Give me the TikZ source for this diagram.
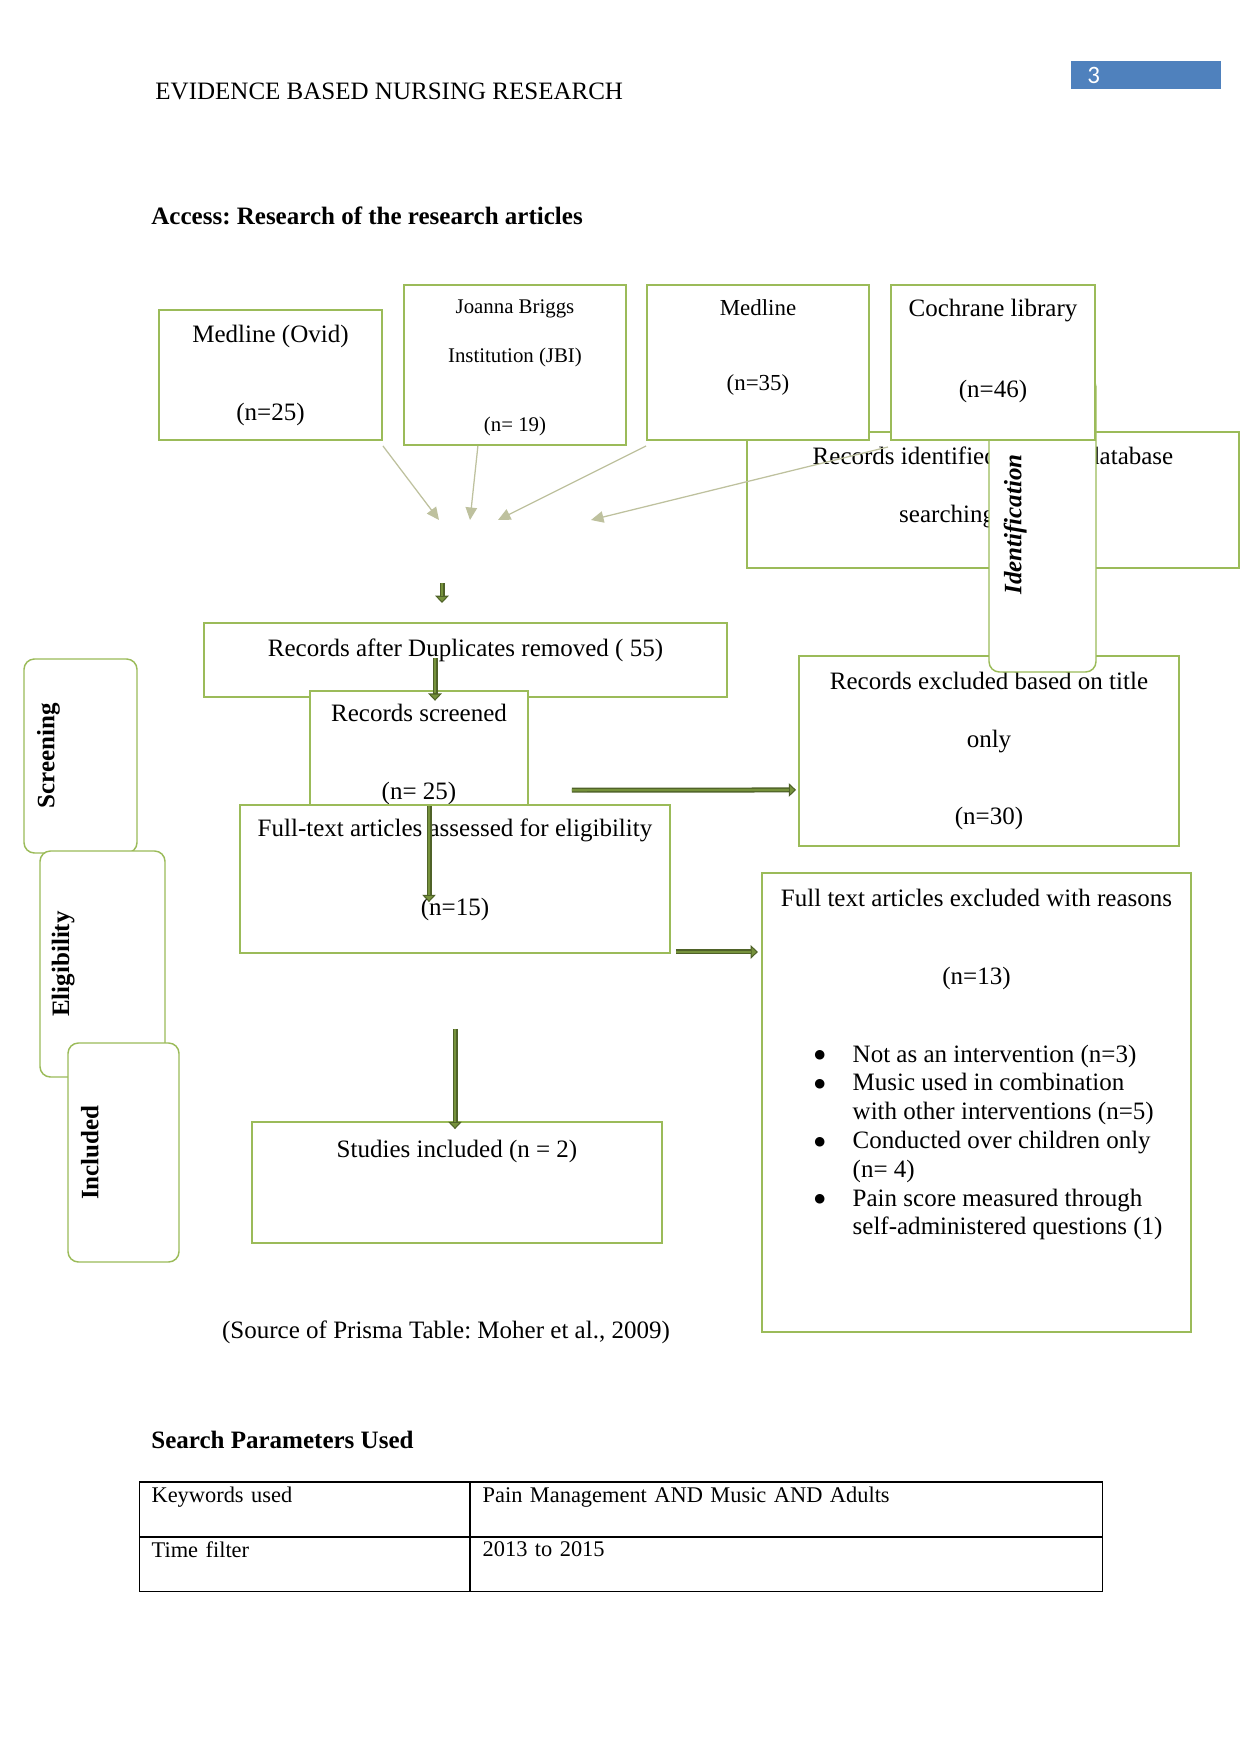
\documentclass[tikz,border=0pt]{standalone}
\usepackage{fontspec}
\setmainfont{Liberation Serif}
\newfontfamily\calibri{Carlito}
\newfontfamily\dejavu{DejaVu Sans}
\usepackage{xcolor}
\usepackage{tikz}
\usetikzlibrary{arrows.meta,positioning,calc}

\definecolor{boxgreen}{RGB}{155,187,89}
\definecolor{arrgrey}{RGB}{190,193,158}
\definecolor{olivedk}{RGB}{79,98,40}
\definecolor{olivemd}{RGB}{118,146,60}
\definecolor{pageblue}{RGB}{79,129,189}
\newdimen\pxu \pxu=0.4797pt
\newcommand{\bigdot}{\raisebox{1.6pt}{\dejavu\fontsize{6}{7}\selectfont ●}}

\begin{document}
\frenchspacing
\begin{tikzpicture}[
  x=0.4797pt, y=-0.4797pt,
  font=\fontsize{12}{14}\selectfont,
  box/.style={draw=boxgreen, line width=0.9pt, fill=white, align=center, inner sep=0pt},
  phase/.style={draw=boxgreen, line width=0.7pt, fill=white, rounded corners=5pt, rotate=90, inner sep=0pt, font=\fontsize{12}{14}\selectfont\bfseries},
  feed/.style={draw=arrgrey, line width=0.6pt, -{Triangle[length=6pt,width=5.5pt]}},
  blk/.style={draw=olivedk, line width=2.4pt, -{Triangle[length=3.5pt,width=6.5pt,line width=0.5pt,fill=olivemd]}, postaction={draw=olivemd, line width=1pt, -, shorten >=3.5pt}},
  free/.style={inner sep=0pt},
  cell/.style={draw=black, line width=0.5pt, anchor=north west, align=left, inner xsep=5.8pt, inner ysep=0pt, minimum height=54*\pxu, font=\fontsize{10.75}{13}\selectfont}
]
\useasboundingbox[fill=white] (0,0) rectangle (1241,1754);

\node[free, anchor=west] (hdr) at (155,91) {EVIDENCE BASED NURSING RESEARCH};
\node[fill=pageblue, text=white, anchor=west, align=left, inner xsep=7.6pt, inner ysep=0pt, text width=56.4pt, minimum height=28*\pxu, font=\calibri\fontsize{12}{14}\selectfont] (pg) at (1071,75) {3};
\node[free, anchor=west, font=\fontsize{12}{14}\selectfont\bfseries] (ttl) at (151,216) {Access: Research of the research articles};

\node[box, minimum width=492*\pxu, minimum height=136*\pxu] (rid) at (993,500) {Records identified through database\\[13.8pt]searching\hspace*{44pt}\rule[-15pt]{0pt}{0pt}};
\node[box, minimum width=380*\pxu, minimum height=190*\pxu] (exc) at (989,751) {Records excluded based on title\\[13.8pt]only\\[23.4pt](n=30)};
\node[phase, minimum width=295*\pxu, minimum height=107*\pxu] (idn) at (1042.5,524.5) {\itshape Identification\rule[-28.8pt]{0pt}{0pt}};
\node[box, font=\fontsize{11}{13}\selectfont, minimum width=222*\pxu, minimum height=155*\pxu] (med) at (758,362.5) {Medline\\[23pt](n=35)\rule[-16.9pt]{0pt}{0pt}};
\node[box, minimum width=204*\pxu, minimum height=155*\pxu] (coch) at (993,362.5) {Cochrane library\\[24.4pt](n=46)\rule[-13.6pt]{0pt}{0pt}};
\node[box, minimum width=223*\pxu, minimum height=130*\pxu] (ovid) at (270.5,375) {Medline (Ovid)\\[23.4pt](n=25)};
\node[box, font=\fontsize{10}{12}\selectfont, minimum width=222*\pxu, minimum height=160*\pxu] (jbi) at (515,365) {\rule{0pt}{9.5pt}Joanna Briggs\\[11.5pt]Institution (JBI)\\[21pt](n= 19)};

\coordinate (t1) at (439,520);
\coordinate (t2) at (470,520);
\coordinate (t3) at (498,520);
\coordinate (t4) at (591,520);
\coordinate (hub) at (442,583);
\draw[feed] ([yshift=-2.4pt]ovid.south east) -- (t1);
\draw[feed] ([xshift=-17.8pt]jbi.south) -- (t2);
\draw[feed] ([yshift=-2.4pt]med.south west) -- (t3);
\draw[feed] ([xshift=-1pt,yshift=-2.9pt]coch.south west) -- (t4);
\draw[blk] (hub) -- ++(0,20);

\node[box, minimum width=523*\pxu, minimum height=74*\pxu] (dup) at (465.5,660) {Records after Duplicates removed ( 55)\rule[-11.5pt]{0pt}{0pt}};
\node[box, minimum width=218*\pxu, minimum height=114*\pxu] (rscr) at (419,748) {\rule{0pt}{15pt}Records screened\\[23.4pt](n= 25)};
\node[box, minimum width=430*\pxu, minimum height=148*\pxu] (ft) at (455,879) {Full-text articles assessed for eligibility\\[23.9pt](n=15)\rule[-11pt]{0pt}{0pt}};
\node[box, minimum width=410*\pxu, minimum height=121*\pxu] (stud) at (457,1182.5) {Studies included (n = 2)\rule[-32.5pt]{0pt}{0pt}};
\node[box, font=\fontsize{12}{13.8}\selectfont, minimum width=429*\pxu, minimum height=459*\pxu] (ftx) at (976.5,1102.5) {Full text articles excluded with reasons\\[23.6pt](n=13)\\[23.6pt]%
\hspace*{11.5pt}\begin{tabular}[t]{@{}l@{\hspace{13.1pt}}l@{}}
\bigdot & Not as an intervention (n=3)\\
\bigdot & Music used in combination\\
 & with other interventions (n=5)\\
\bigdot & Conducted over children only\\
 & (n= 4)\\
\bigdot & Pain score measured through\\
 & self-administered questions (1)\rule[-39pt]{0pt}{0pt}
\end{tabular}};

\coordinate (h2) at ($(ft.south east)+(5,-2)$);
\draw[blk] ($(dup.center)+(-30.5,-2)$) -- ($(rscr.north)+(16,11)$);
\draw[blk] ($(ft.north)+(-26,2)$) -- ($(ft.north)+(-26,98)$);
\draw[blk] ($(rscr.south east)+(43,-16)$) -- ($(exc.south west)+(-2,-57)$);
\draw[blk] (h2) -- ([xshift=-1.5pt]h2 -| ftx.west);
\draw[blk] ($(ft.south)+(0,75)$) -- ($(stud.north)+(-2,8)$);

\node[phase, minimum width=194*\pxu, minimum height=113*\pxu] (scrn) at (80.5,756) {Screening\rule[-33.3pt]{0pt}{0pt}};
\node[phase, minimum width=226*\pxu, minimum height=125*\pxu] (elig) at (102.5,964) {Eligibility\rule[-40.3pt]{0pt}{0pt}};
\node[phase, minimum width=219*\pxu, minimum height=111*\pxu] (incl) at (123.5,1152.5) {Included\rule[-32.5pt]{0pt}{0pt}};

\node[free] (src) at (446,1332) {(Source of Prisma Table: Moher et al., 2009)};

\node[free, anchor=west, font=\fontsize{12}{14}\selectfont\bfseries] (sp) at (151,1440) {Search Parameters Used};
\node[cell, text width=146.7pt] (kw) at (139,1482) {Keywords used\rule[-14.5pt]{0pt}{0pt}};
\node[cell, text width=291.6pt] (kwv) at (kw.north east) {Pain Management AND Music AND Adults\rule[-14.5pt]{0pt}{0pt}};
\node[cell, text width=146.7pt] (tf) at (kw.south west) {Time filter\rule[-14.5pt]{0pt}{0pt}};
\node[cell, text width=291.6pt] (tfv) at (tf.north east) {2013 to 2015\rule[-14.5pt]{0pt}{0pt}};
\draw[line width=1.3pt] (kw.north west) -- (kwv.north east);
\end{tikzpicture}
\end{document}
